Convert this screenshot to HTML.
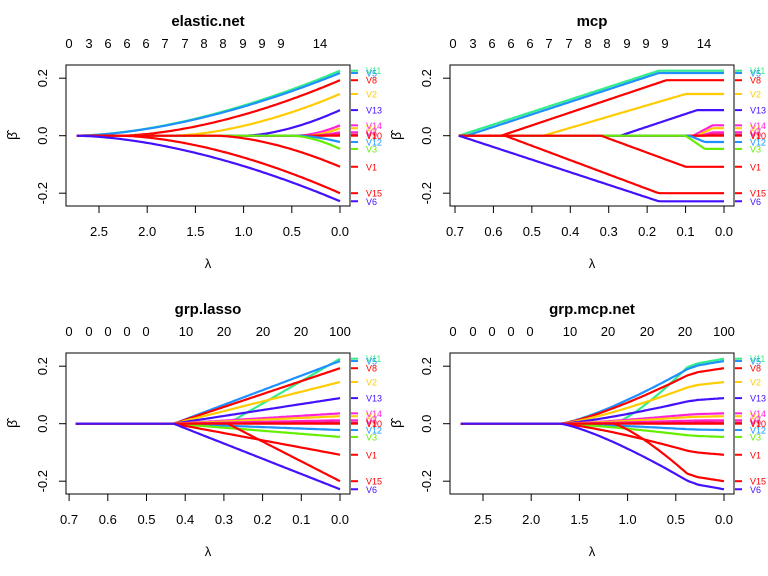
<!DOCTYPE html>
<html><head><meta charset="utf-8"><style>body{margin:0;background:#fff}svg{display:block}text{font-family:"Liberation Sans",sans-serif}</style></head>
<body><svg id="s" width="768" height="576" xmlns="http://www.w3.org/2000/svg"></svg>
<script>
const S=document.getElementById('s');let h='';
const vars=[
['V11',0.226,'#33ee88'],['V5',0.218,'#1e90ff'],['V8',0.193,'#ff0000'],['V2',0.145,'#ffcc00'],
['V13',0.089,'#4411ff'],['V14',0.036,'#ff22dd'],['V4',0.026,'#ffcc00'],['V7',0.012,'#ff22cc'],
['V9',0.004,'#ee1166'],['V10',0,'#ff0000'],['V12',-0.022,'#1e90ff'],['V3',-0.046,'#66ee00'],
['V1',-0.108,'#ff0000'],['V15',-0.2,'#ff0000'],['V6',-0.228,'#4411ff']];
const Y=b=>135.7-b*287.5;
function panel(ox,oy,title,scale,lmax,ticks,tdec,top,fn){
 const X=l=>340-l*scale;
 h+=`<g transform="translate(${ox},${oy})">`;
 h+=`<text x="208" y="26" font-size="15" font-weight="bold" text-anchor="middle">${title}</text>`;
 top.forEach(([x,t])=>h+=`<text x="${x}" y="48" font-size="13" text-anchor="middle">${t}</text>`);
 vars.forEach((v,i)=>{let pts=[];for(let k=0;k<=120;k++){const l=lmax*(1-k/120);pts.push(X(l).toFixed(1)+','+Y(fn(v,i,l)).toFixed(1));}
  h+=`<polyline points="${pts.join(' ')}" fill="none" stroke="${v[2]}" stroke-width="2.2"/>`;});
 h+=`<rect x="66" y="65" width="284" height="141" fill="none" stroke="#000" stroke-width="1"/>`;
 h+=`<line x1="${X(ticks[ticks.length-1])}" y1="206" x2="${X(0)}" y2="206" stroke="#000"/>`;
 ticks.forEach(t=>{h+=`<line x1="${X(t)}" y1="206" x2="${X(t)}" y2="213" stroke="#000"/><text x="${X(t)}" y="236" font-size="13" text-anchor="middle">${t.toFixed(1)}</text>`;});
 h+=`<text x="208" y="268" font-size="13" text-anchor="middle">λ</text>`;
 [0.2,0,-0.2].forEach(b=>{h+=`<line x1="59" y1="${Y(b)}" x2="66" y2="${Y(b)}" stroke="#000"/><text transform="translate(47,${Y(b)}) rotate(-90)" font-size="13" text-anchor="middle">${b.toFixed(1)}</text>`;});
 h+=`<line x1="66" y1="${Y(-0.2)}" x2="66" y2="${Y(0.2)}" stroke="#000"/>`;
 h+=`<text transform="translate(17,136) rotate(-90)" font-size="14" text-anchor="middle">β̂</text>`;
 vars.forEach(v=>{h+=`<line x1="351" y1="${Y(v[1])}" x2="358" y2="${Y(v[1])}" stroke="${v[2]}" stroke-width="2"/><text x="366" y="${Y(v[1])+3.5}" font-size="9" fill="${v[2]}">${v[0]}</text>`;});
 h+='</g>';
}
const topA=[[69,0],[89,3],[108,6],[127,6],[146,6],[165,7],[185,7],[204,8],[223,8],[243,9],[262,9],[281,9],[320,14]];
const topB=[[69,0],[89,0],[108,0],[127,0],[146,0],[186,10],[224,20],[263,20],[301,20],[340,100]];
const eEN=[2.75,2.75,2.3,1.75,1.0,0.45,0.35,0.3,0.25,0,0.45,0.5,1.3,2.3,2.75];
panel(0,0,'elastic.net',96.4,2.73,[0,0.5,1,1.5,2,2.5],1,topA,(v,i,l)=>{const e=eEN[i];return l>=e?0:v[1]*Math.pow((e-l)/e,1.7);});
const mE=[[.69,.17],[.67,.17],[.58,.15],[.47,.1],[.27,.07],[.08,.03],[.07,.03],[.06,.03],[.05,.03],[0,0],[.09,.05],[.1,.05],[.32,.1],[.57,.17],[.69,.17]];
panel(384,0,'mcp',384.3,0.69,[0,0.1,0.2,0.3,0.4,0.5,0.6,0.7],1,topA,(v,i,l)=>{const [e,s]=mE[i];if(l>=e)return 0;if(l<=s)return v[1];return v[1]*(e-l)/(e-s);});
panel(0,288,'grp.lasso',387,0.683,[0,0.1,0.2,0.3,0.4,0.5,0.6,0.7],1,topB,(v,i,l)=>{const e=(i==0||i==13)?0.29:0.43;return l>=e?0:v[1]*(e-l)/e;});
panel(384,288,'grp.mcp.net',96.4,2.73,[0,0.5,1,1.5,2,2.5],1,topB,(v,i,l)=>{const e=(i==0||i==13)?1.15:1.7;const b=v[1];
 if(l>=e)return 0;if(l<=0.27)return b*(0.93+0.07*(0.27-l)/0.27);if(l<=0.38)return b*(0.87+0.06*(0.38-l)/0.11);return b*0.87*Math.pow((e-l)/(e-0.38),1.3);});
S.innerHTML=h;
</script></body></html>
